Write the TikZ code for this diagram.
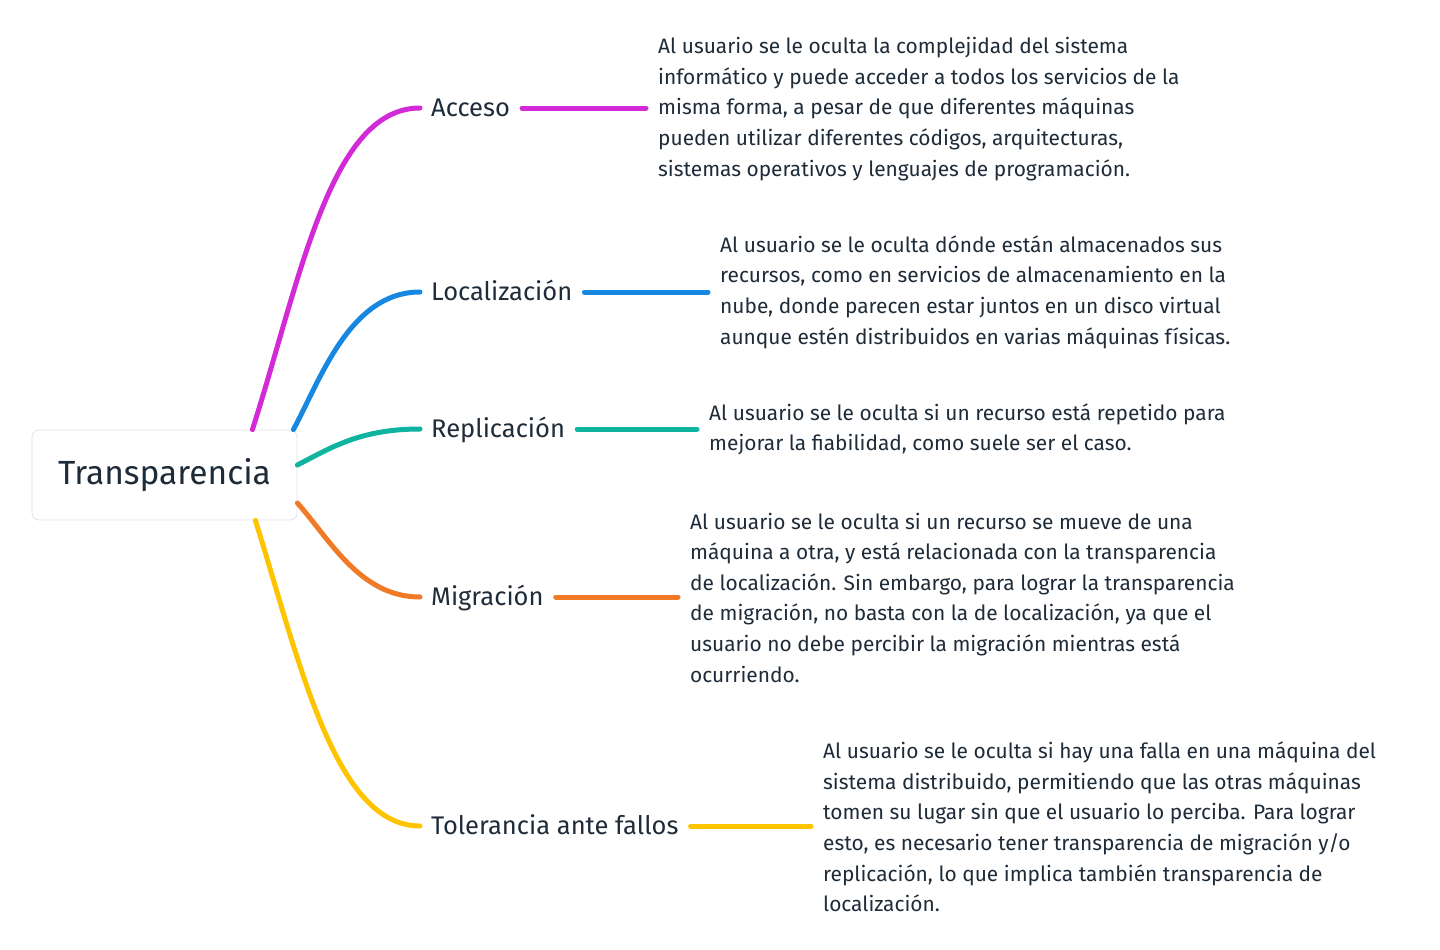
\documentclass[tikz,border=0pt]{standalone}
\usepackage{fontspec}
\setmainfont{Fira Sans}
\usetikzlibrary{calc}
\definecolor{txt}{RGB}{30,43,56}
\definecolor{boxgray}{RGB}{225,226,228}
\definecolor{cAcc}{RGB}{210,42,214}
\definecolor{cLoc}{RGB}{22,136,226}
\definecolor{cRep}{RGB}{14,180,160}
\definecolor{cMig}{RGB}{240,122,38}
\definecolor{cTol}{RGB}{255,196,0}
\begin{document}
\begin{tikzpicture}[x=1pt,y=-1pt,
  branch/.style={line width=5pt, line cap=round},
  lab/.style={anchor=west, inner sep=0pt, text height=17.6pt, text depth=0pt, font=\fontsize{25.5}{28}\selectfont, text=txt},
  desc/.style={anchor=west, inner sep=0pt, align=left, font=\fontsize{20.9}{30.6}\selectfont, text=txt},
  rootbox/.style={draw=boxgray, line width=0.8pt, fill=white, rounded corners=7pt, minimum width=265pt, minimum height=90pt, inner sep=0pt, font=\fontsize{33.5}{36}\selectfont, text=txt}]
\useasboundingbox (0,0) rectangle (1440,950);

\node[rootbox] (T) at (164.5,475) {Transparencia};

\node[lab] (A) at (431,108) {Acceso};
\node[lab] (L) at (431,292) {Localización};
\node[lab] (R) at (431,429) {Replicación};
\node[lab] (M) at (431,597) {Migración};
\node[lab] (F) at (431,826) {Tolerancia ante fallos};

\node[desc] (dA) at (658,109) {Al usuario se le oculta la complejidad del sistema\\informático y puede acceder a todos los servicios de la\\misma forma, a pesar de que diferentes máquinas\\pueden utilizar diferentes códigos, arquitecturas,\\sistemas operativos y lenguajes de programación.};
\node[desc] (dL) at (720,292) {Al usuario se le oculta dónde están almacenados sus\\recursos, como en servicios de almacenamiento en la\\nube, donde parecen estar juntos en un disco virtual\\aunque estén distribuidos en varias máquinas físicas.};
\node[desc] (dR) at (709,429.5) {Al usuario se le oculta si un recurso está repetido para\\mejorar la fiabilidad, como suele ser el caso.};
\node[desc] (dM) at (690,597.5) {Al usuario se le oculta si un recurso se mueve de una\\máquina a otra, y está relacionada con la transparencia\\de localización. Sin embargo, para lograr la transparencia\\de migración, no basta con la de localización, ya que el\\usuario no debe percibir la migración mientras está\\ocurriendo.};
\node[desc] (dF) at (823,827) {Al usuario se le oculta si hay una falla en una máquina del\\sistema distribuido, permitiendo que las otras máquinas\\tomen su lugar sin que el usuario lo perciba. Para lograr\\esto, es necesario tener transparencia de migración y/o\\replicación, lo que implica también transparencia de\\localización.};

% curves from root
\draw[branch,cAcc] ([xshift=-45pt]T.north east) .. controls +(48,-150) and +(-90,0) .. ([xshift=-11pt]A.west);
\draw[branch,cLoc] ([xshift=-4pt]T.north east) .. controls +(27,-50) and +(-70,0) .. ([xshift=-11pt]L.west);
\draw[branch,cRep] ([yshift=10pt]T.east) .. controls +(33,-17) and +(-60,0) .. ([xshift=-11pt]R.west);
\draw[branch,cMig] ([yshift=-28pt]T.east) .. controls +(33,37) and +(-60,0) .. ([xshift=-11pt]M.west);
\draw[branch,cTol] ([xshift=-42pt]T.south east) .. controls +(45,144) and +(-85,0) .. ([xshift=-11pt]F.west);

% connectors label -> description
\draw[branch,cAcc] ([xshift=12pt]A.east) -- ([xshift=-12pt]dA.west |- A.east);
\draw[branch,cLoc] ([xshift=12pt]L.east) -- ([xshift=-12pt]dL.west |- L.east);
\draw[branch,cRep] ([xshift=12pt]R.east) -- ([xshift=-12pt]dR.west |- R.east);
\draw[branch,cMig] ([xshift=12pt]M.east) -- ([xshift=-12pt]dM.west |- M.east);
\draw[branch,cTol] ([xshift=12pt]F.east) -- ([xshift=-12pt]dF.west |- F.east);
\end{tikzpicture}
\end{document}
